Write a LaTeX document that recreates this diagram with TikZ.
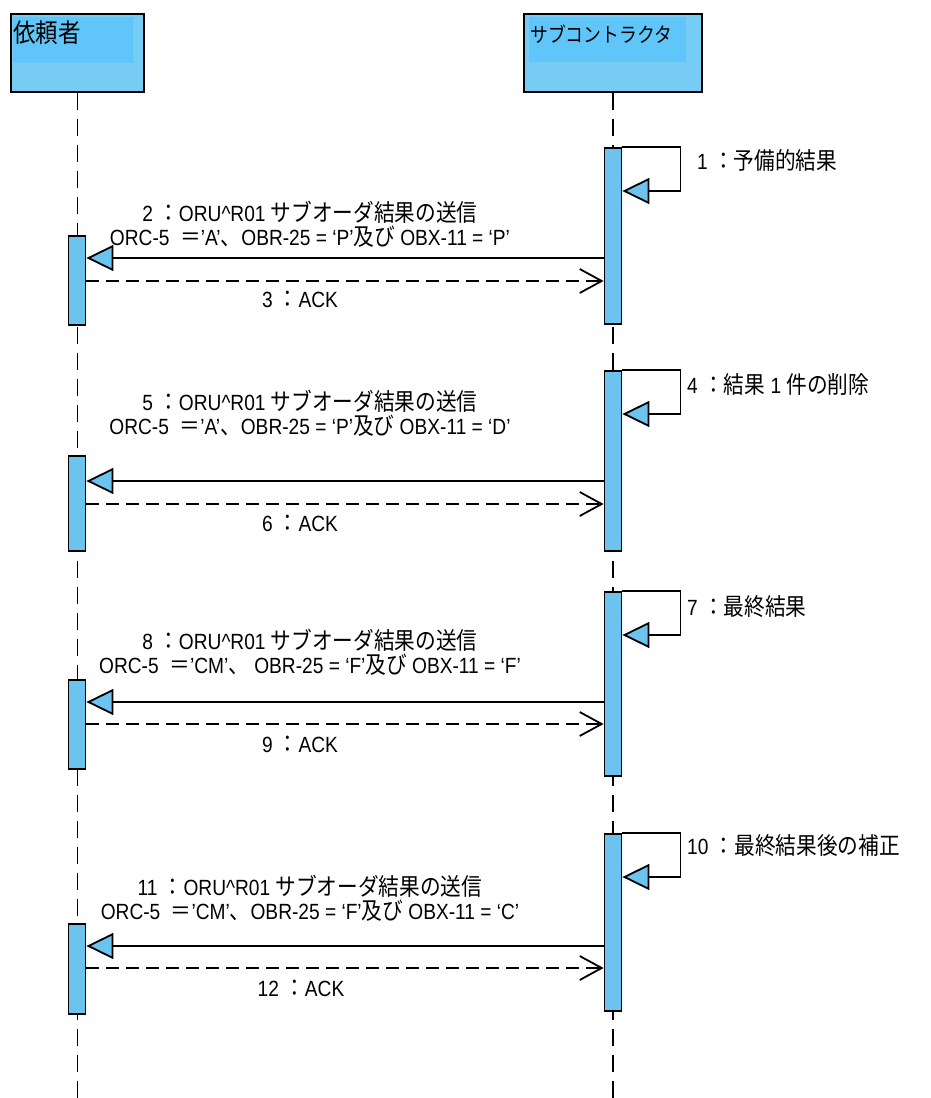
\documentclass[tikz,border=0pt]{standalone}
\usepackage{fontspec}
\setmainfont[FakeStretch=0.87]{Liberation Sans}
\newfontfamily\jpfont[FakeStretch=0.87,Scale=1.08]{Noto Sans CJK JP}
\newcommand{\jtext}[1]{{\jpfont #1}}
\usetikzlibrary{arrows.meta,positioning}
\definecolor{barblue}{RGB}{108,196,238}
\definecolor{headblue}{RGB}{118,204,244}
\definecolor{headhi}{RGB}{96,198,250}
\tikzset{
    %Define style for header boxes
    header/.style={
           rectangle,
           draw=black, line width=1.8pt,
           fill=headblue,
           anchor=north west,
           },
    headtext/.style={
           anchor=west,
           inner sep=0pt,
           },
    %Define style for activation bars
    bar/.style={
           rectangle,
           draw=black, line width=1.8pt,
           fill=barblue,
           minimum width=17pt,
           anchor=north,
           inner sep=0pt,
           },
    lbl/.style={
           inner sep=0pt,
           align=center,
           font=\fontsize{22}{24}\selectfont,
           },
    selflbl/.style={
           anchor=west,
           inner sep=0pt,
           font=\fontsize{22}{26}\selectfont,
           },
    % Define arrow styles
    lifeline/.style={
           line width=1.8pt,
           dash pattern=on 17pt off 9pt,
           },
    callmsg/.style={
           line width=1.8pt,
           -{Triangle[fill=barblue,length=27pt,width=26pt,line width=1.8pt]},
           },
    replymsg/.style={
           line width=1.8pt,
           dash pattern=on 13pt off 7pt,
           -{Straight Barb[length=22pt,width=24pt,line width=1.8pt]},
           },
}
\begin{document}
\begin{tikzpicture}[x=1pt,y=-1pt]
\useasboundingbox (0,0) rectangle (930,1098);
% header boxes
\node[header, minimum width=133pt, minimum height=78pt](req) at (10,13){};
\node[header, minimum width=178pt, minimum height=78pt](sub) at (523,13){};
\fill[headhi] (13,17) rectangle (133,63);
\fill[headhi] (529,17) rectangle (686,62);
\node[headtext, font=\fontsize{24}{27}\selectfont] at (13,33){\jtext{依頼者}};
\node[headtext, font=\fontsize{19}{21}\selectfont] at (530,34){\jtext{サブコントラクタ}};
% lifelines
\draw[lifeline] (req.south) -- (req.south |- 0,1098);
\draw[lifeline] (sub.south) -- (sub.south |- 0,1098);
% activation bars
\node[bar, minimum height=176pt](sb1) at (613,147){};
\node[bar, minimum height=180pt](sb2) at (613,370){};
\node[bar, minimum height=184pt](sb3) at (613,591){};
\node[bar, minimum height=177pt](sb4) at (613,833){};
\node[bar, minimum height=89pt](rb1) at (77,235){};
\node[bar, minimum height=95pt](rb2) at (77,455){};
\node[bar, minimum height=89pt](rb3) at (77,679){};
\node[bar, minimum height=90pt](rb4) at (77,923){};
% self messages
\draw[callmsg] (sb1.north east) -- ++(58,0) |- (sb1.east |- 0,191);
\draw[callmsg] (sb2.north east) -- ++(58,0) |- (sb2.east |- 0,414);
\draw[callmsg] (sb3.north east) -- ++(58,0) |- (sb3.east |- 0,635);
\draw[callmsg] (sb4.north east) -- ++(58,0) |- (sb4.east |- 0,877);
\node[selflbl] at (697,160){1 \jtext{：予備的結果}};
\node[selflbl] at (687,384){4 \jtext{：結果} 1 \jtext{件の削除}};
\node[selflbl] at (687,607){7 \jtext{：最終結果}};
\node[selflbl] at (687,846){10 \jtext{：最終結果後の補正}};
% messages
\draw[callmsg] (sb1.west |- 0,258) -- (rb1.east |- 0,258);
\draw[replymsg] (rb1.east |- 0,281) -- (sb1.west |- 0,281);
\draw[callmsg] (sb2.west |- 0,481) -- (rb2.east |- 0,481);
\draw[replymsg] (rb2.east |- 0,504) -- (sb2.west |- 0,504);
\draw[callmsg] (sb3.west |- 0,702) -- (rb3.east |- 0,702);
\draw[replymsg] (rb3.east |- 0,724) -- (sb3.west |- 0,724);
\draw[callmsg] (sb4.west |- 0,946) -- (rb4.east |- 0,946);
\draw[replymsg] (rb4.east |- 0,968) -- (sb4.west |- 0,968);
% message labels
\node[lbl] at (310,224){2 \jtext{：}ORU\textasciicircum R01 \jtext{サブオーダ結果の送信}\\
  ORC-5\ \ \jtext{＝}’A’\jtext{、}OBR-25 = ‘P’\jtext{及び} OBX-11 = ‘P’};
\node[lbl] at (300,299){3 \jtext{：}ACK};
\node[lbl] at (310,413){5 \jtext{：}ORU\textasciicircum R01 \jtext{サブオーダ結果の送信}\\
  ORC-5\ \ \jtext{＝}’A’\jtext{、}OBR-25 = ‘P’\jtext{及び} OBX-11 = ‘D’};
\node[lbl] at (300,523){6 \jtext{：}ACK};
\node[lbl] at (310,652){8 \jtext{：}ORU\textasciicircum R01 \jtext{サブオーダ結果の送信}\\
  ORC-5\ \ \jtext{＝}’CM’\jtext{、} OBR-25 = ‘F’\jtext{及び} OBX-11 = ‘F’};
\node[lbl] at (300,744){9 \jtext{：}ACK};
\node[lbl] at (310,898){11 \jtext{：}ORU\textasciicircum R01 \jtext{サブオーダ結果の送信}\\
  ORC-5\ \ \jtext{＝}’CM’\jtext{、}OBR-25 = ‘F’\jtext{及び} OBX-11 = ‘C’};
\node[lbl] at (301,988){12 \jtext{：}ACK};
\end{tikzpicture}
\end{document}
